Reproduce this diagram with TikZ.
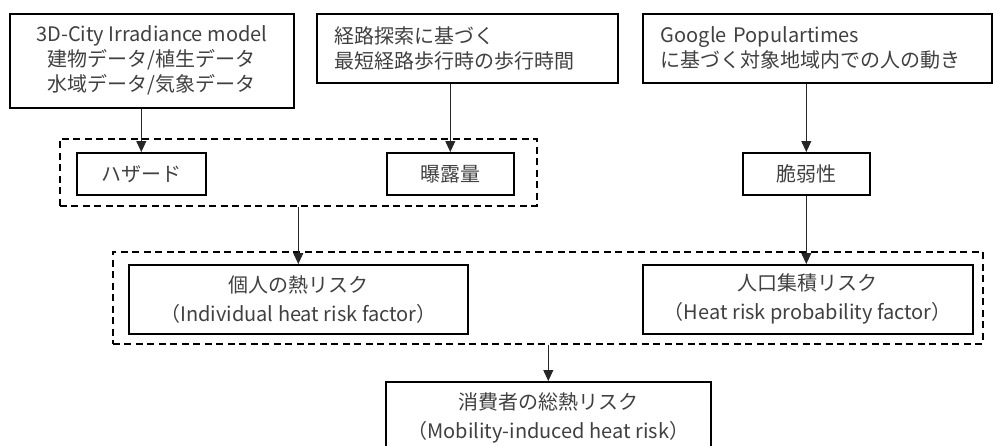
\documentclass[tikz,border=0pt]{standalone}
\usepackage{fontspec}
\setmainfont{Noto Sans CJK JP}
\usetikzlibrary{arrows.meta}
\begin{document}
\begin{tikzpicture}[x=1pt,y=-1pt,
  box/.style={draw=black, line width=1.6pt, inner sep=0pt, anchor=north west, text=black!75, font=\fontsize{20}{25}\selectfont},
  lowbox/.style={box, font=\fontsize{20}{29}\selectfont, align=center},
  grp/.style={draw=black, line width=1.6pt, dash pattern=on 7pt off 4.5pt, inner sep=0pt, anchor=north west},
  arr/.style={draw=black!85, line width=0.9pt, -{Triangle[length=11pt,width=10pt]}}
]
\useasboundingbox (0,0) rectangle (993,445);
% groups
\node[grp, minimum width=477pt, minimum height=67pt] (G1) at (59,138) {};
\node[grp, minimum width=870pt, minimum height=92pt] (G2) at (112,251) {};
% top boxes
\node[box, minimum width=284pt, minimum height=94pt, align=center] (A) at (9,13)
  {3D-City Irradiance model\\建物データ/植生データ\\水域データ/気象データ};
\node[box, minimum height=69pt, inner xsep=18pt, text width=265pt, align=left] (B) at (316,13)
  {経路探索に基づく\\最短経路歩行時の歩行時間};
\node[box, minimum height=69pt, inner xsep=18pt, text width=313pt, align=left] (C) at (642,13)
  {Google Populartimes\\に基づく対象地域内での人の動き};
% middle boxes
\node[box, minimum width=129pt, minimum height=42pt] (haz) at (76,152) {ハザード};
\node[box, minimum width=127pt, minimum height=42pt] (exp) at (386,152) {曝露量};
\node[box, minimum width=127pt, minimum height=42pt] (vul) at (742,152) {脆弱性};
% lower boxes
\node[lowbox, minimum width=339pt, minimum height=69pt] (ind) at (128,264)
  {個人の熱リスク\\（Individual heat risk factor）};
\node[lowbox, minimum width=330pt, minimum height=69pt] (pop) at (642,264)
  {人口集積リスク\\（Heat risk probability factor）};
\node[lowbox, minimum width=325pt, minimum height=72pt] (tot) at (385,381)
  {消費者の総熱リスク\\（Mobility-induced heat risk）};
% arrows
\draw[arr] (haz.north |- A.south) -- (haz.north);
\draw[arr] (exp.north |- B.south) -- (exp.north);
\draw[arr] (vul.north |- C.south) -- (vul.north);
\draw[arr] (ind.north |- G1.south) -- (ind.north);
\draw[arr] (vul.south) -- (vul.south |- pop.north);
\draw[arr] (tot.north |- G2.south) -- (tot.north);
\end{tikzpicture}
\end{document}
